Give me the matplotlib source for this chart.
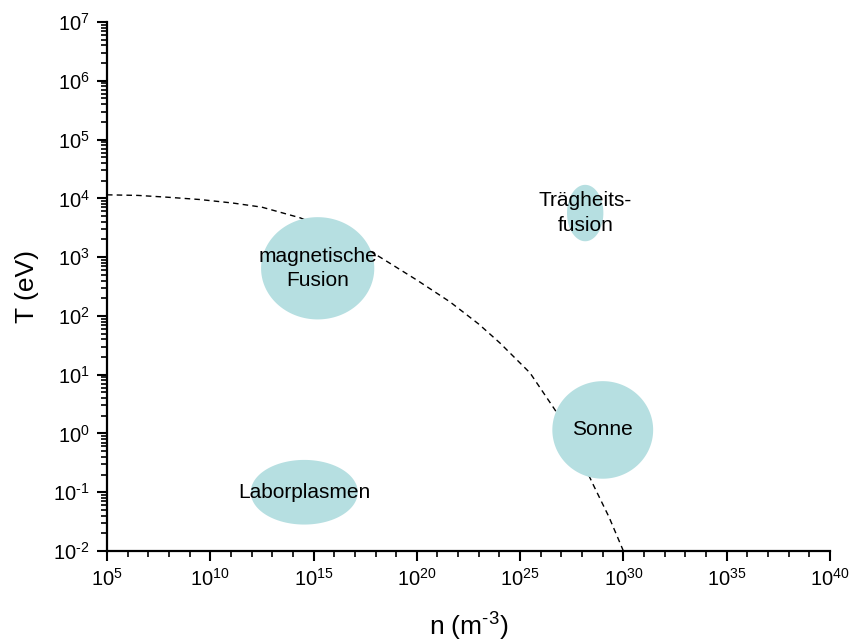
import numpy as np
import matplotlib
matplotlib.use("Agg")
import matplotlib.pyplot as plt
from matplotlib.ticker import FixedLocator, LogLocator, NullFormatter, FuncFormatter

plt.rcParams["font.family"] = ["Liberation Sans", "DejaVu Sans"]
plt.rcParams["mathtext.fontset"] = "custom"
plt.rcParams["mathtext.rm"] = "Liberation Sans"
plt.rcParams["mathtext.it"] = "Liberation Sans:italic"

# regions in log10 space: centre and half-width/half-height in decades
region_labels = ["magnetische\nFusion", "Trägheits-\nfusion", "Sonne", "Laborplasmen"]
region_log_n = [15.2, 28.15, 29.0, 14.55]
region_log_T = [2.81, 3.75, 0.06, -1.0]
region_rx = [2.74, 0.88, 2.44, 2.59]
region_ry = [0.87, 0.48, 0.83, 0.55]
region_color = "#b6dfe1"

# dashed boundary curve (log10 n, log10 T)
curve_log_n = [5.0, 6.5, 7.9, 9.5, 11.1, 12.5, 14.34, 16.0, 17.0, 18.31, 20.0,
               21.6, 23.0, 24.02, 25.48, 26.69, 27.5, 28.48, 29.3, 30.0]
curve_log_T = [4.06, 4.05, 4.02, 3.98, 3.92, 3.85, 3.67, 3.43, 3.26, 2.98, 2.61,
               2.24, 1.86, 1.54, 1.03, 0.40, -0.08, -0.83, -1.42, -2.0]

x_major_exp = [5, 10, 15, 20, 25, 30, 35, 40]
x_minor_exp = list(range(5, 41))


def pow_label(v, pos):
    e = int(round(np.log10(v)))
    return r"$10^{%s}$" % (str(e).replace("-", r"\text{-}"))


fig = plt.figure(figsize=(8.49, 6.44), dpi=100)
ax = fig.add_axes([0.126, 0.1444, 0.8516, 0.8214])
ax.set_xscale("log")
ax.set_yscale("log")

ax.plot(10.0 ** np.array(curve_log_n), 10.0 ** np.array(curve_log_T),
        color="black", lw=1.0, ls=(0, (4, 3)), zorder=1)

t = np.linspace(0, 2 * np.pi, 200)
for lab, cx, cy, rx, ry in zip(region_labels, region_log_n, region_log_T, region_rx, region_ry):
    ax.fill(10.0 ** (cx + rx * np.cos(t)), 10.0 ** (cy + ry * np.sin(t)),
            color=region_color, lw=0, zorder=2)
    ax.text(10.0 ** cx, 10.0 ** cy, lab, ha="center", va="center",
            multialignment="center", fontsize=15, zorder=3, linespacing=1.35)

ax.set_xlim(1e5, 1e40)
ax.set_ylim(1e-2, 1e7)

ax.xaxis.set_major_locator(FixedLocator([10.0 ** e for e in x_major_exp]))
ax.xaxis.set_minor_locator(FixedLocator([10.0 ** e for e in x_minor_exp]))
ax.xaxis.set_minor_formatter(NullFormatter())
ax.yaxis.set_major_locator(LogLocator(base=10, numticks=20))
ax.yaxis.set_minor_locator(LogLocator(base=10, subs=np.arange(2, 10), numticks=20))
ax.yaxis.set_minor_formatter(NullFormatter())
ax.xaxis.set_major_formatter(FuncFormatter(pow_label))
ax.yaxis.set_major_formatter(FuncFormatter(pow_label))

for s in ["top", "right"]:
    ax.spines[s].set_visible(False)
for s in ["left", "bottom"]:
    ax.spines[s].set_linewidth(1.6)

ax.tick_params(which="major", direction="out", length=7.5, width=1.5, labelsize=14.5, pad=5)
ax.tick_params(which="minor", direction="out", length=4, width=1.2)

ax.set_xlabel(r"n (m$^{\text{-}3}$)", fontsize=19, labelpad=15)
ax.set_ylabel("T (eV)", fontsize=19, labelpad=10)

fig.savefig("out.png", dpi=100)
